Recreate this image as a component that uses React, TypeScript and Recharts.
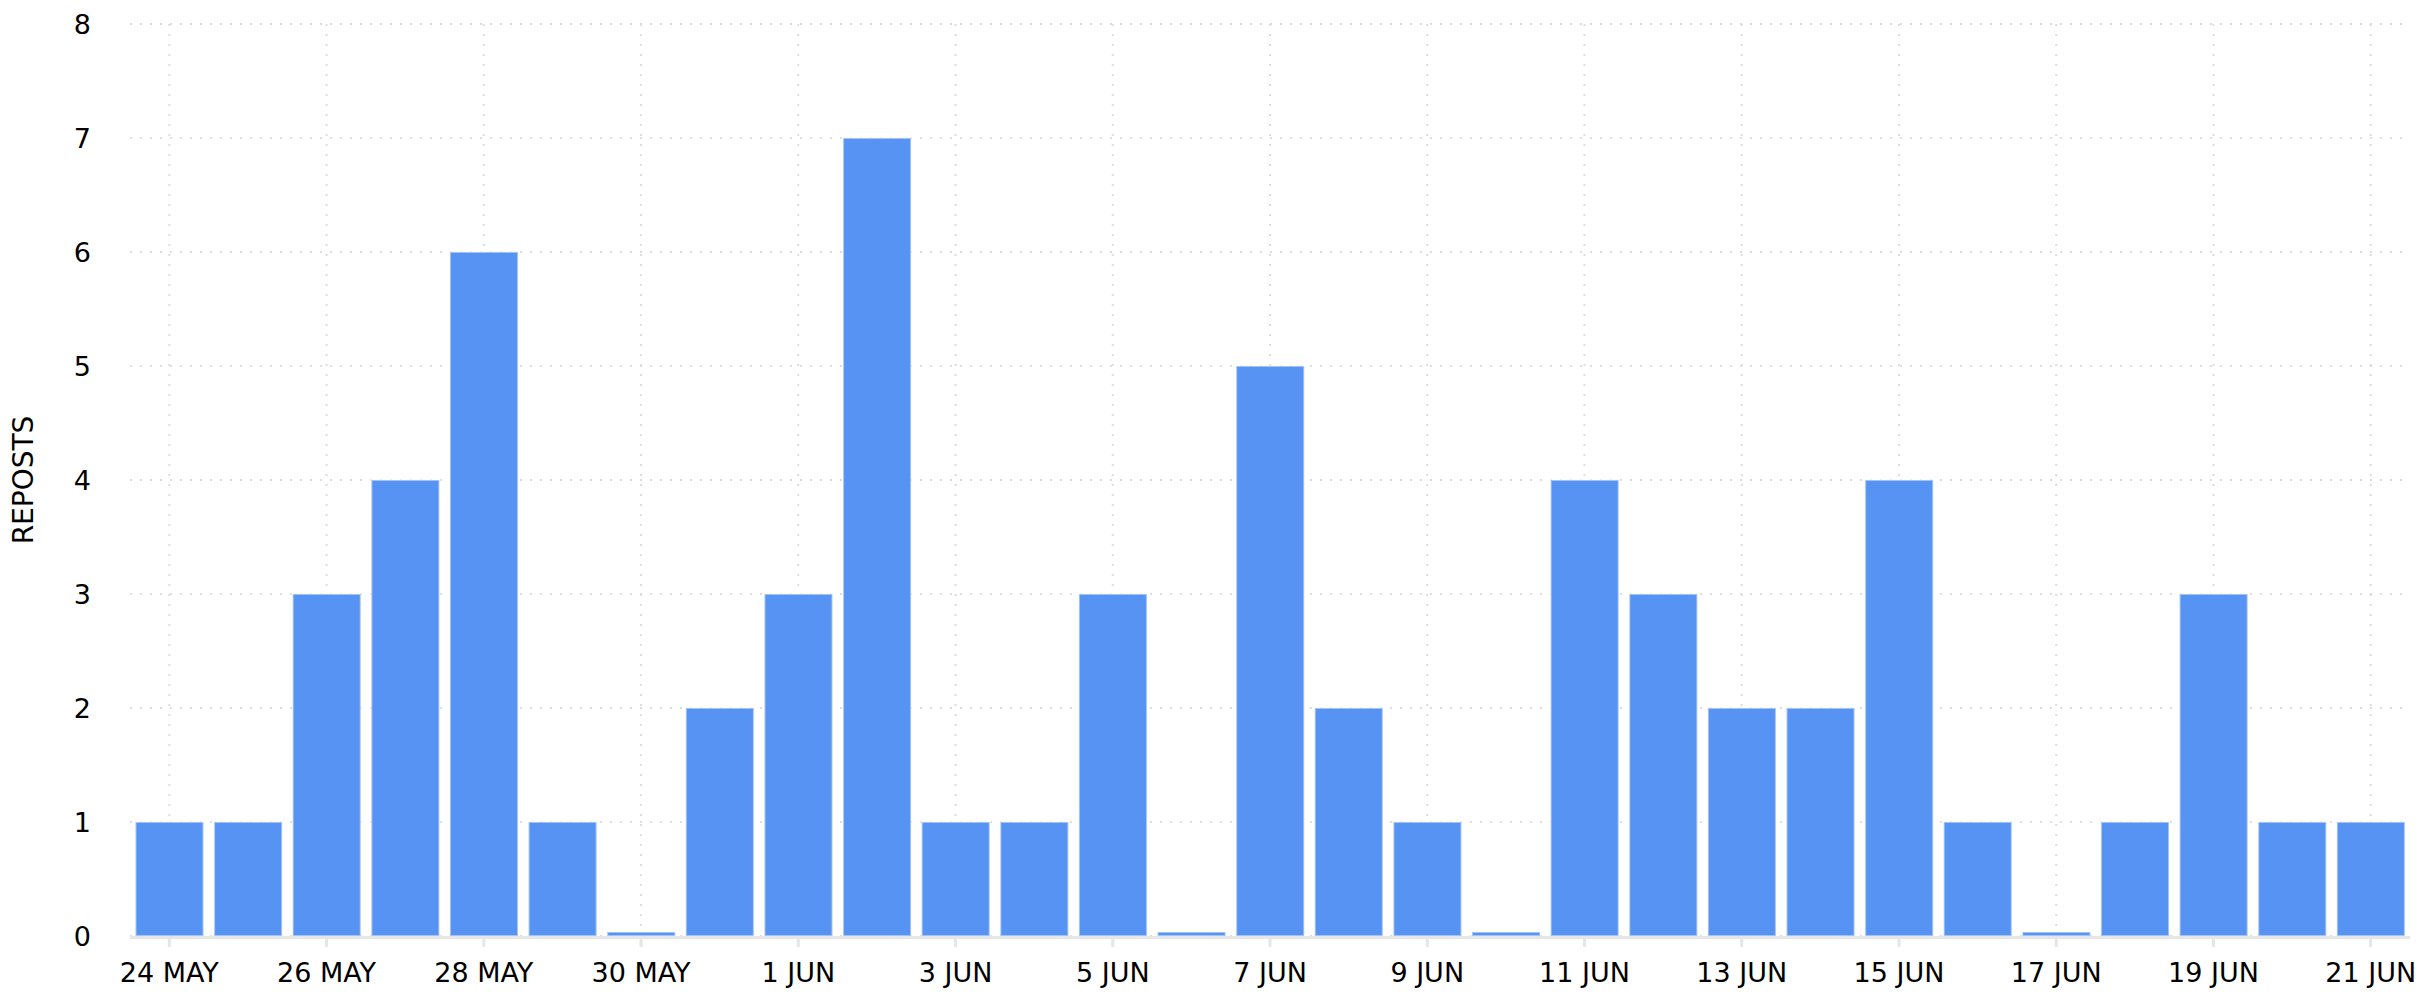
import React from 'react';
import { BarChart, Bar, XAxis, YAxis, CartesianGrid } from 'recharts';

const days: string[] = [
  '24 MAY', '25 MAY', '26 MAY', '27 MAY', '28 MAY', '29 MAY', '30 MAY', '31 MAY',
  '1 JUN', '2 JUN', '3 JUN', '4 JUN', '5 JUN', '6 JUN', '7 JUN', '8 JUN', '9 JUN',
  '10 JUN', '11 JUN', '12 JUN', '13 JUN', '14 JUN', '15 JUN', '16 JUN', '17 JUN',
  '18 JUN', '19 JUN', '20 JUN', '21 JUN',
];

const reposts: number[] = [
  1, 1, 3, 4, 6, 1, 0, 2,
  3, 7, 1, 1, 3, 0, 5, 2, 1,
  0, 4, 3, 2, 2, 4, 1, 0,
  1, 3, 1, 1,
];

const yTicks: number[] = [0, 1, 2, 3, 4, 5, 6, 7, 8];

const data = days.map((d, i) => ({ day: d, reposts: reposts[i] }));

const FONT = "'DejaVu Sans', sans-serif";

const YLabel = (props: any) => {
  const vb = props.viewBox || { x: 0, y: 0, height: 0 };
  const cx = vb.x + 15;
  const cy = vb.y + vb.height / 2;
  return (
    <text
      x={cx}
      y={cy}
      transform={`rotate(-90 ${cx} ${cy})`}
      textAnchor="middle"
      dominantBaseline="central"
      fontFamily={FONT}
      fontSize={28}
      fill="#000"
    >
      REPOSTS
    </text>
  );
};

export default function App() {
  return (
    <div style={{ width: 2417, height: 992 }}>
      <BarChart
        width={2417}
        height={992}
        data={data}
        margin={{ top: 16, right: 15, bottom: 4, left: 0 }}
        barCategoryGap="7%"
      >
        <CartesianGrid stroke="#dddddd" strokeDasharray="2 8" strokeWidth={2} syncWithTicks />
        <XAxis
          dataKey="day"
          interval={1}
          height={60}
          axisLine={{ stroke: '#e6e6e6', strokeWidth: 3, transform: 'translate(0 1.5)' }}
          tickLine={{ stroke: '#e6e6e6', strokeWidth: 3 }}
          tickSize={11}
          tickMargin={16}
          tick={{ fontFamily: FONT, fontSize: 27, fill: '#000' }}
        />
        <YAxis
          width={122}
          domain={[0, 8]}
          ticks={yTicks}
          interval={0}
          axisLine={false}
          tickLine={false}
          tickSize={0}
          tickMargin={39}
          tick={{ fontFamily: FONT, fontSize: 27, fill: '#000' }}
          label={{ content: <YLabel /> }}
        />
        <Bar
          dataKey="reposts"
          fill="#5793f3"
          stroke="rgba(255,255,255,0.45)"
          strokeWidth={2}
          minPointSize={4}
          isAnimationActive={false}
        />
      </BarChart>
    </div>
  );
}
